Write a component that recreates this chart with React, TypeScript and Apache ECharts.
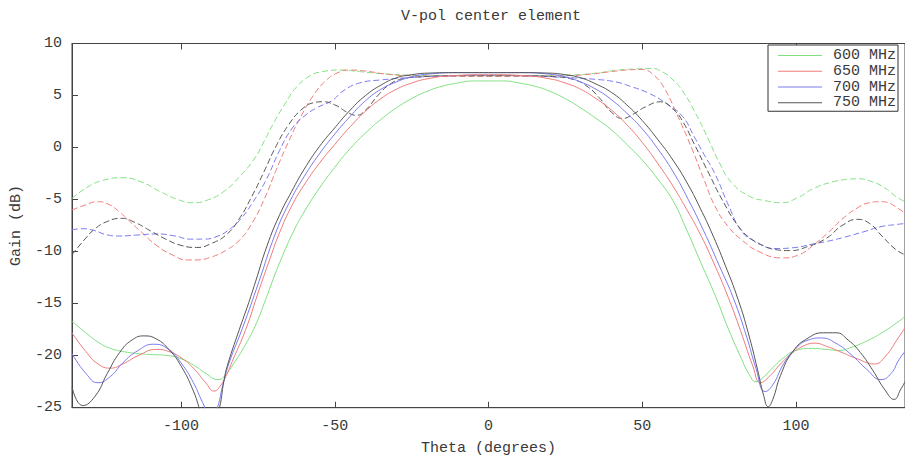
import React, { useEffect, useRef } from "react";
import * as echarts from "echarts";

const legendNames = ["600 MHz", "650 MHz", "700 MHz", "750 MHz"];
const lineColors = ["#80e080", "#f07a7a", "#7a7af0", "#555555"];
const xTicks = [-100, -50, 0, 50, 100];

type P = [number, number];

// Solid curves (theta deg, gain dB)
const s600: P[] = [[-135.5,-16.7],[-131,-17.8],[-127,-18.7],[-123,-19.3],[-119,-19.6],[-114,-19.8],[-109,-19.9],[-104,-20.0],[-100,-20.3],[-96,-20.9],[-92,-21.7],[-88,-22.3],[-86,-22.0],[-83,-20.8],[-79,-18.9],[-76,-17.2],[-73,-15.0],[-70,-12.6],[-67,-10.4],[-63.5,-8.1],[-60,-6.2],[-55,-3.9],[-50,-1.9],[-45,-0.1],[-40,1.4],[-35,2.7],[-30,3.8],[-25,4.7],[-20,5.4],[-15,5.9],[-10,6.2],[-5,6.4],[0,6.4],[5,6.4],[10,6.2],[15,5.9],[20,5.4],[25,4.7],[30,3.8],[35,2.8],[40,1.7],[45,0.3],[50,-1.2],[55,-3.0],[60,-5.1],[64,-7.6],[69,-11.0],[74,-14.4],[78,-17.4],[82,-20.1],[85,-21.9],[87,-22.5],[89,-22.2],[92,-21.3],[96,-20.2],[100,-19.5],[105,-19.3],[110,-19.4],[114,-19.5],[118,-19.2],[123,-18.6],[128,-17.8],[133.5,-16.7],[135.5,-16.2]];
const s650: P[] = [[-135.5,-17.8],[-131,-19.6],[-127,-20.8],[-123,-21.2],[-119,-20.8],[-114,-20.0],[-108,-19.4],[-104,-19.6],[-100,-20.2],[-96,-21.2],[-92,-22.6],[-89.3,-23.4],[-87,-22.8],[-85,-21.7],[-83.3,-20.5],[-79,-17.5],[-75,-14.0],[-71,-10.6],[-68,-8.2],[-64,-5.6],[-60,-3.6],[-55,-1.5],[-50,0.3],[-45,2.0],[-40,3.5],[-35,4.7],[-30,5.6],[-25,6.2],[-20,6.6],[-12,6.9],[0,7.0],[12,6.9],[20,6.6],[25,6.2],[30,5.6],[35,4.7],[40,3.6],[45,2.2],[50,0.5],[55,-1.5],[60,-3.7],[64,-5.7],[68.5,-8.1],[73,-10.9],[78,-14.4],[82,-17.6],[86,-21.0],[88.5,-22.6],[91,-22.1],[95,-20.8],[99,-19.7],[103,-19.0],[106,-18.8],[110,-19.1],[115,-19.7],[120,-20.3],[125.5,-20.8],[129,-20.1],[133.5,-18.2],[135.5,-17.3]];
const s700: P[] = [[-135.5,-19.8],[-131,-21.7],[-127,-22.6],[-123,-22.0],[-119,-20.7],[-114,-19.5],[-109,-18.9],[-104,-19.4],[-100,-20.7],[-96,-22.6],[-93,-24.5],[-90.5,-25.8],[-88.5,-25.2],[-86.5,-22.9],[-84.4,-20.7],[-80.1,-17.4],[-74.7,-12.9],[-69.5,-8.4],[-65,-5.4],[-60,-2.8],[-55,-0.6],[-50,1.3],[-45,3.0],[-40,4.5],[-35,5.6],[-30,6.3],[-25,6.8],[-20,7.05],[-10,7.2],[0,7.2],[10,7.2],[20,7.05],[25,6.8],[30,6.3],[35,5.6],[40,4.6],[45,3.3],[50,1.8],[55,-0.1],[60,-2.3],[65,-5.0],[70,-8.0],[75,-11.3],[79.7,-14.5],[84,-18.2],[87,-21.2],[90,-23.45],[92.5,-22.8],[96,-20.8],[100,-19.3],[104,-18.5],[108.3,-18.3],[113,-18.8],[118,-19.9],[123,-21.3],[127.7,-22.3],[131,-21.7],[133.5,-20.4],[135.5,-19.6]];
const s750: P[] = [[-135.5,-23.0],[-132,-24.8],[-128,-23.9],[-124,-21.7],[-120,-19.7],[-116,-18.5],[-112,-18.1],[-108,-18.4],[-104,-19.4],[-100,-21.0],[-96,-23.4],[-93,-25.8],[-90.5,-26.8],[-88,-25.5],[-86,-22.3],[-84.9,-20.9],[-81.2,-17.6],[-78,-14.9],[-75.8,-12.9],[-72,-9.4],[-68,-6.5],[-64,-4.2],[-60,-2.1],[-55,0.1],[-50,1.9],[-45,3.6],[-40,5.0],[-35,6.0],[-30,6.7],[-25,7.0],[-20,7.15],[-10,7.2],[0,7.2],[10,7.2],[20,7.15],[25,7.0],[30,6.7],[35,6.1],[40,5.3],[45,4.1],[50,2.6],[55,0.8],[60,-1.2],[65,-3.6],[69,-5.9],[72.5,-8.1],[77,-11.3],[81.2,-14.6],[84.5,-17.8],[87.5,-21.3],[89.5,-23.8],[91,-24.9],[92.5,-24.2],[95,-21.9],[99,-19.6],[104,-18.3],[109,-17.8],[113,-17.8],[117,-18.5],[121,-19.7],[125,-21.4],[129,-23.3],[132,-24.2],[134,-23.3],[135.5,-22.5]];

// Dashed curves
const d600: P[] = [[-135.5,-4.9],[-131,-3.9],[-126,-3.2],[-119,-2.9],[-113,-3.3],[-107,-4.2],[-101,-5.0],[-96,-5.3],[-91,-5.0],[-86,-4.2],[-81,-2.8],[-76,-1.0],[-73,0.6],[-70,2.3],[-66,4.3],[-62.5,5.8],[-58,6.9],[-54,7.3],[-48,7.45],[-42,7.3],[-35,7.1],[-25,6.95],[-12,6.9],[0,6.9],[12,6.9],[25,6.95],[35,7.15],[42,7.45],[48,7.55],[53,7.6],[57,7.2],[60,6.5],[63,5.5],[67,3.5],[71.7,0.7],[75,-1.4],[79.2,-3.4],[85,-4.7],[90,-5.1],[95.4,-5.3],[100.7,-4.8],[106,-3.9],[112,-3.3],[117,-3.05],[120,-3.0],[125,-3.3],[129,-3.9],[132.5,-4.7],[135.5,-5.2]];
const d650: P[] = [[-135.5,-6.0],[-131,-5.5],[-127.4,-5.2],[-124,-5.4],[-120,-6.2],[-116,-7.3],[-113,-8.1],[-108,-9.4],[-103,-10.3],[-98,-10.8],[-95,-10.8],[-90,-10.5],[-85,-9.8],[-81,-8.9],[-77,-7.3],[-73,-5.0],[-69,-2.1],[-65,0.6],[-61,3.0],[-57,5.0],[-53,6.4],[-49,7.2],[-45,7.45],[-40,7.35],[-33,7.05],[-25,6.9],[-12,6.85],[0,6.85],[12,6.85],[25,6.9],[33,7.05],[40,7.3],[45,7.45],[50,7.5],[54,6.9],[57,5.8],[61,3.4],[66.3,-0.2],[70,-3.0],[73.8,-5.7],[78,-7.6],[82.5,-8.9],[88,-10.0],[95.4,-10.6],[101,-10.3],[106,-9.3],[110.4,-8.2],[115,-6.9],[120,-5.8],[124,-5.3],[127.7,-5.2],[130,-5.3],[132.5,-5.7],[135.5,-6.3]];
const d700: P[] = [[-135.5,-7.9],[-132,-7.8],[-128,-8.0],[-124,-8.4],[-120,-8.5],[-114,-8.4],[-108,-8.3],[-102,-8.5],[-97,-8.8],[-93,-8.8],[-88,-8.5],[-84,-7.8],[-81,-7.0],[-77,-5.4],[-72.5,-3.2],[-68,-0.3],[-64,1.8],[-60,3.0],[-56,3.8],[-51,4.5],[-47,5.5],[-42,6.2],[-35,6.5],[-24,6.75],[-12,6.9],[0,6.95],[12,6.9],[24,6.75],[35,6.55],[41.5,6.3],[46,5.9],[52.3,5.2],[58,4.2],[63.1,3.0],[67,1.0],[70,-0.6],[73.8,-2.6],[78,-5.5],[82.5,-8.1],[86.7,-9.0],[93.2,-9.7],[100,-9.6],[105,-9.3],[110.4,-9.0],[116,-8.6],[122,-8.1],[127.7,-7.6],[132.5,-7.4],[135.5,-7.3]];
const d750: P[] = [[-135.5,-10.3],[-131,-8.7],[-128,-7.8],[-124,-7.1],[-119.4,-6.8],[-115,-7.2],[-110,-8.0],[-105,-8.8],[-100,-9.4],[-95,-9.6],[-90,-9.2],[-85,-8.3],[-81,-6.8],[-77,-4.7],[-73,-2.3],[-69,0.2],[-65,2.2],[-61,3.6],[-57,4.3],[-54,4.4],[-50,4.1],[-46,3.4],[-43,3.1],[-40,3.6],[-36,5.0],[-32,6.1],[-28,6.6],[-22,6.8],[-12,6.9],[0,6.9],[12,6.9],[22,6.8],[28,6.5],[32,5.9],[36,4.8],[40,3.4],[43.7,2.8],[47,3.2],[51,3.9],[56,4.4],[60,3.7],[63,2.6],[67,0.3],[71.7,-2.5],[76,-5.0],[81.4,-7.6],[86,-8.9],[90,-9.5],[93.2,-9.8],[98,-9.9],[104,-9.5],[110,-8.7],[115,-7.5],[120,-6.9],[124,-7.3],[128,-8.5],[132.5,-9.8],[135.5,-10.3]];

const solidSets = [s600, s650, s700, s750];
const dashedSets = [d600, d650, d700, d750];

const FONT = "Liberation Mono";
const TXT = "#3a3a3a";
const FRAME = "#444444";

export default function App() {
  const ref = useRef<HTMLDivElement>(null);
  useEffect(() => {
    if (!ref.current) return;
    const chart = echarts.init(ref.current, null, { renderer: "svg" });
    const series: any[] = [];
    dashedSets.forEach((d, i) => {
      series.push({
        name: legendNames[i] + " dashed",
        type: "line",
        data: d,
        symbol: "none",
        smooth: 0.5,
        clip: true,
        lineStyle: { color: lineColors[i], width: 1, type: [6, 3] },
        itemStyle: { color: lineColors[i] },
        silent: true,
      });
    });
    solidSets.forEach((d, i) => {
      series.push({
        name: legendNames[i],
        type: "line",
        data: d,
        symbol: "none",
        smooth: 0.5,
        clip: true,
        lineStyle: { color: lineColors[i], width: 1 },
        itemStyle: { color: lineColors[i] },
        silent: true,
      });
    });
    const tickStyle = { lineStyle: { color: FRAME, width: 1 } };
    chart.setOption({
      animation: false,
      backgroundColor: "#ffffff",
      title: {
        text: "V-pol center element",
        left: 491,
        top: 9,
        textAlign: "center",
        padding: 0,
        textStyle: { fontFamily: FONT, fontSize: 15, fontWeight: "normal", color: TXT },
      },
      legend: {
        data: legendNames,
        orient: "vertical",
        left: 768,
        top: 45,
        padding: [3, 2, 1, 10],
        itemGap: 0.75,
        itemWidth: 44,
        itemHeight: 1,
        icon: "rect",
        backgroundColor: "#ffffff",
        borderColor: "#333333",
        borderWidth: 1,
        selectedMode: false,
        textStyle: { fontFamily: FONT, fontSize: 15, color: TXT, lineHeight: 15, padding: [0, 0, 0, 6] },
      },
      grid: {
        left: 72,
        top: 43.5,
        width: 839.3,
        height: 364.2,
        show: true,
        borderColor: FRAME,
        borderWidth: 1,
        backgroundColor: "transparent",
      },
      xAxis: [
        {
          type: "value",
          min: -135.5,
          max: 135.5,
          position: "bottom",
          name: "Theta (degrees)",
          nameLocation: "middle",
          nameGap: 33,
          nameTextStyle: { fontFamily: FONT, fontSize: 15, color: TXT },
          axisLine: { show: true, onZero: false, lineStyle: { color: FRAME } },
          axisTick: { show: true, inside: true, length: 6, customValues: xTicks, ...tickStyle },
          axisLabel: { customValues: xTicks, margin: 11, fontFamily: FONT, fontSize: 15, color: TXT },
          splitLine: { show: false },
        },
        {
          type: "value",
          min: -135.5,
          max: 135.5,
          position: "top",
          axisLine: { show: true, onZero: false, lineStyle: { color: FRAME } },
          axisTick: { show: true, inside: true, length: 6, customValues: xTicks, ...tickStyle },
          axisLabel: { show: false },
          splitLine: { show: false },
        },
      ],
      yAxis: [
        {
          type: "value",
          min: -25,
          max: 10,
          interval: 5,
          name: "Gain (dB)",
          nameLocation: "middle",
          nameGap: 42,
          nameTextStyle: { fontFamily: FONT, fontSize: 15, color: TXT },
          axisLine: { show: true, onZero: false, lineStyle: { color: FRAME } },
          axisTick: { show: true, inside: true, length: 6, ...tickStyle },
          axisLabel: { margin: 10, fontFamily: FONT, fontSize: 15, color: TXT },
          splitLine: { show: false },
        },
      ],
      series,
    });
    return () => chart.dispose();
  }, []);
  return (
    <div
      ref={ref}
      style={{ position: "fixed", left: 0, top: 0, width: 905, height: 462, background: "#fff" }}
    />
  );
}
